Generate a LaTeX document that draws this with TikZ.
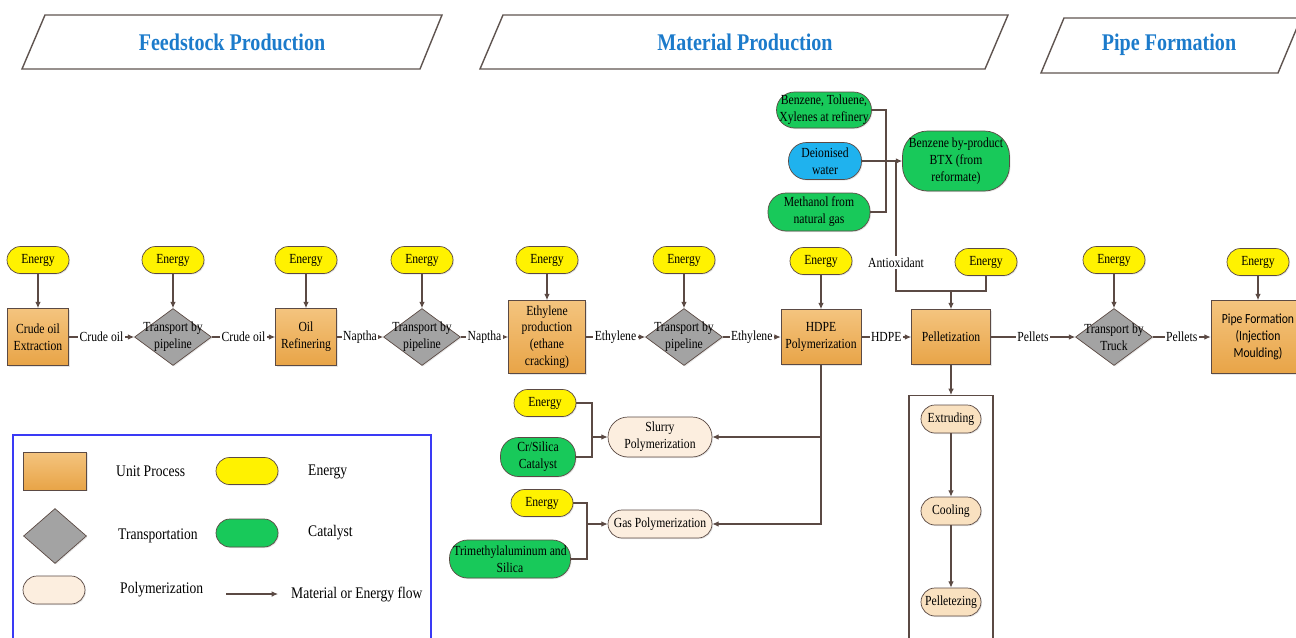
\documentclass[tikz,border=0pt]{standalone}
\usepackage{fontspec}
\setmainfont{Liberation Serif}[FakeStretch=0.84]
\newfontfamily\calfont{Carlito}[FakeStretch=0.84]
\usepackage{xcolor}
\usepackage{tikz}
\usetikzlibrary{arrows.meta,positioning,shapes.geometric,shadows}

\definecolor{lineC}{HTML}{5B4A44}
\definecolor{hdrC}{HTML}{5F5450}
\definecolor{orTop}{HTML}{F4C47E}
\definecolor{orBot}{HTML}{E8A447}
\definecolor{grayC}{HTML}{A3A3A3}
\definecolor{catC}{HTML}{18C95A}
\definecolor{waterC}{HTML}{1FB2EE}
\definecolor{polyC}{HTML}{FCEEDF}
\definecolor{stepC}{HTML}{F9E1C0}
\definecolor{titleC}{HTML}{1C7BCB}
\definecolor{legC}{HTML}{3A3AF5}

\begin{document}
\begin{tikzpicture}[x=0.02cm, y=-0.02cm,
    font=\fontsize{7.9}{9.6}\selectfont,
    line/.style={draw=lineC, line width=0.6pt},
    flow/.style={line, -{Latex[length=3.6pt,width=3.2pt]}},
    softshadow/.style={drop shadow={opacity=0.2, shadow xshift=0.6pt, shadow yshift=-0.6pt}},
    unitbox/.style={rectangle, draw=lineC, top color=orTop, bottom color=orBot, align=center, inner sep=1pt, softshadow},
    trans/.style={diamond, draw=lineC, fill=grayC, minimum width=1.54cm, minimum height=1.14cm, inner sep=0pt, softshadow},
    energy/.style={rectangle, rounded corners=0.27cm, draw=lineC, fill=yellow, minimum width=1.24cm, minimum height=0.54cm, inner sep=0pt, softshadow},
    catal/.style={rectangle, rounded corners=0.36cm, draw=lineC, fill=catC, align=center, inner sep=0pt, softshadow},
    polym/.style={rectangle, rounded corners=0.4cm, draw=lineC, fill=polyC, align=center, inner sep=0pt, minimum width=2.08cm, softshadow},
    stepbox/.style={rectangle, rounded corners=0.28cm, draw=lineC, fill=stepC, minimum width=1.2cm, minimum height=0.56cm, inner sep=0pt, softshadow},
    elbl/.style={fill=white, inner sep=0.8pt},
    lgtext/.style={anchor=west, font=\fontsize{9.2}{11}\selectfont},
    hdr/.style={draw=hdrC, line width=0.8pt},
    title/.style={font=\fontsize{13.6}{16}\selectfont\bfseries, text=titleC},
]
    \useasboundingbox (0,0) rectangle (1296,637);
    \clip (0,0) rectangle (1296,637);

    % Stage headers
    \draw[hdr] (45,15) -- (442,15) -- (420,69) -- (22,69) -- cycle;
    \node[title] (hfeed) at (232,42) {Feedstock Production};
    \draw[hdr] (503,15) -- (1008,15) -- (985,69) -- (480,69) -- cycle;
    \node[title] (hmat) at (745,42) {Material Production};
    \draw[hdr] (1064,18) -- (1301,18) -- (1278,73) -- (1041,73) -- cycle;
    \node[title] (hpipe) at (1169,45) {Pipe Formation};

    % Energy inputs
    \node[energy] (enext) at (38,260) {Energy};
    \node[energy] (entp1) at (173,260) {Energy};
    \node[energy] (enref) at (306,260) {Energy};
    \node[energy] (entp2) at (422,260) {Energy};
    \node[energy] (eneth) at (547,260) {Energy};
    \node[energy] (entp3) at (684,260) {Energy};
    \node[energy] (enhdpe) at (821,261) {Energy};
    \node[energy] (enpel) at (986,262) {Energy};
    \node[energy] (entruck) at (1114,260) {Energy};
    \node[energy] (enpipe) at (1258,262) {Energy};

    % Main chain
    \node[unitbox, minimum width=1.22cm, minimum height=1.14cm] (ext) at (38,337) {Crude oil\\Extraction};
    \node[trans, label={[align=center]center:Transport by\\pipeline}] (tp1) at (173,337) {};
    \node[unitbox, minimum width=1.22cm, minimum height=1.14cm] (ref) at (306,337) {Oil\\Refinering};
    \node[trans, label={[align=center]center:Transport by\\pipeline}] (tp2) at (422,337) {};
    \node[unitbox, minimum width=1.54cm, minimum height=1.46cm] (eth) at (547,337) {Ethylene\\production\\(ethane\\cracking)};
    \node[trans, label={[align=center]center:Transport by\\pipeline}] (tp3) at (684,337) {};
    \node[unitbox, minimum width=1.6cm, minimum height=1.1cm] (hdpe) at (821,337) {HDPE\\Polymerization};
    \node[unitbox, minimum width=1.58cm, minimum height=1.1cm] (pel) at (951,337) {Pelletization};
    \node[trans, label={[align=center]center:Transport by\\Truck}] (truck) at (1114,337) {};
    \node[unitbox, minimum width=1.88cm, minimum height=1.46cm, font=\calfont\fontsize{7.9}{9.6}\selectfont] (pipe) at (1258,337) {Pipe Formation\\(Injection\\Moulding)};

    \foreach \e/\p in {enext/ext, entp1/tp1, enref/ref, entp2/tp2, eneth/eth, entp3/tp3, enhdpe/hdpe, entruck/truck, enpipe/pipe}
        \draw[flow] (\e) -- (\p);

    \draw[flow] (ext) -- node[elbl] {Crude oil} (tp1);
    \draw[flow] (tp1) -- node[elbl] {Crude oil} (ref);
    \draw[flow] (ref) -- node[elbl] {Naptha} (tp2);
    \draw[flow] (tp2) -- node[elbl] {Naptha} (eth);
    \draw[flow] (eth) -- node[elbl] {Ethylene} (tp3);
    \draw[flow] (tp3) -- node[elbl] {Ethylene} (hdpe);
    \draw[flow] (hdpe) -- node[elbl] {HDPE} (pel);
    \draw[flow] (pel) -- node[elbl] {Pellets} (truck);
    \draw[flow] (truck) -- node[elbl] {Pellets} (pipe);

    % Antioxidant supply
    \node[catal, minimum width=1.9cm, minimum height=0.72cm] (btxr) at (824,110) {Benzene, Toluene,\\Xylenes at refinery};
    \node[catal, fill=waterC, minimum width=1.46cm, minimum height=0.74cm] (water) at (825,161) {Deionised\\water};
    \node[catal, minimum width=2.04cm, minimum height=0.76cm] (meth) at (819,212) {Methanol from\\natural gas};
    \node[catal, rounded corners=0.5cm, minimum width=2.14cm, minimum height=1.2cm] (bypr) at (956,161) {Benzene by-product\\BTX (from\\reformate)};
    \coordinate (cjn) at (886,161);
    \coordinate (wjn) at (896,161);
    \coordinate (acrn) at (896,291);
    \coordinate (ajn) at (951,291);
    \draw[line] (btxr.east) -| (cjn) |- (meth.east);
    \draw[flow] (water) -- (bypr);
    \draw[line] (wjn) -- node[elbl, pos=0.78] {Antioxidant} (acrn) -- (ajn);
    \draw[line] (enpel.south) |- (ajn);
    \draw[flow] (ajn) -- (pel);

    % Polymerization routes
    \node[energy] (ensl) at (545,403) {Energy};
    \node[catal, minimum width=1.5cm, minimum height=0.78cm] (crsi) at (538,457) {Cr/Silica\\Catalyst};
    \node[polym, minimum height=0.8cm] (slurry) at (660,437) {Slurry\\Polymerization};
    \node[energy] (engas) at (542,503) {Energy};
    \node[catal, minimum width=2.42cm, minimum height=0.76cm] (tma) at (510,559) {Trimethylaluminum and\\Silica};
    \node[polym, rounded corners=0.28cm, minimum height=0.56cm] (gaspol) at (660,524) {Gas Polymerization};
    \coordinate (sjn) at (592,437);
    \coordinate (gjn) at (587,524);
    \draw[line] (ensl.east) -| (sjn) |- (crsi.east);
    \draw[flow] (sjn) -- (slurry);
    \draw[line] (engas.east) -| (gjn) |- (tma.east);
    \draw[flow] (gjn) -- (gaspol);
    \draw[flow] (hdpe.south) |- (slurry.east);
    \draw[flow] (hdpe.south) |- (gaspol.east);

    % Pelletization steps
    \node[draw=lineC, line width=0.6pt, minimum width=1.68cm, minimum height=5.3cm] (pframe) at (951,528) {};
    \node[stepbox] (extr) at (951,419) {Extruding};
    \node[stepbox] (cool) at (951,511) {Cooling};
    \node[stepbox] (pelz) at (951,602) {Pelletezing};
    \draw[flow] (pel) -- (pframe);
    \draw[flow] (extr) -- (cool);
    \draw[flow] (cool) -- (pelz);

    % Legend
    \draw[draw=legC, line width=0.8pt] (13,660) -- (13,435) -- (431,435) -- (431,660);
    \node[unitbox, minimum width=1.26cm, minimum height=0.76cm] (lgunit) at (55,471) {};
    \node[lgtext] (lgunitt) at (110,471) {Unit Process};
    \node[energy] (lgen) at (247,471) {};
    \node[lgtext] (lgent) at (302,472) {Energy};
    \node[trans, minimum width=1.26cm, minimum height=1.1cm] (lgtr) at (55,536) {};
    \node[lgtext] (lgtrt) at (112,536) {Transportation};
    \node[catal, minimum width=1.24cm, minimum height=0.56cm, rounded corners=0.28cm] (lgcat) at (247,533) {};
    \node[lgtext] (lgcatt) at (302,533) {Catalyst};
    \node[polym, minimum width=1.24cm, minimum height=0.56cm, rounded corners=0.28cm] (lgpol) at (54,590) {};
    \node[lgtext] (lgpolt) at (114,590) {Polymerization};
    \coordinate (lgfa) at (226,594);
    \coordinate (lgfb) at (278,594);
    \node[lgtext] (lgflow) at (285,595) {Material or Energy flow};
    \draw[flow] (lgfa) -- (lgfb);
\end{tikzpicture}
\end{document}
